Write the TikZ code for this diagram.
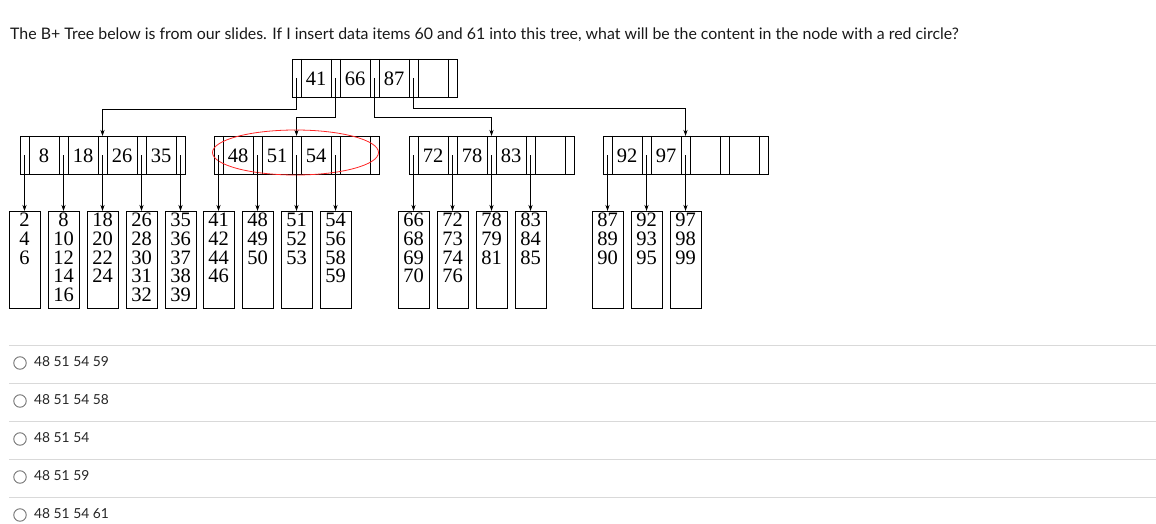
\documentclass[tikz,border=0pt]{standalone}
\usepackage{fontspec}
\setmainfont{Liberation Serif}
\newfontfamily\uifont{Lato}
\usetikzlibrary{arrows.meta}
\tikzset{
  arr/.style={-{Stealth[length=6pt,width=4pt]},line width=0.8pt},
  box/.style={line width=0.8pt},
  leaf/.style={draw,line width=0.8pt,minimum width=31pt,minimum height=97pt,anchor=north,inner sep=0pt},
  leaftext/.style={anchor=north,align=center,inner sep=0pt,font=\fontsize{20.5}{18.7}\selectfont},
  keytext/.style={font=\fontsize{20.5}{22}\selectfont,inner sep=0pt},
  sep/.style={draw=black!15,line width=1pt},
  radio/.style={circle,draw=black!55,line width=0.9pt,minimum size=12.5pt,inner sep=0pt},
  opt/.style={anchor=west,font=\uifont\fontsize{13.8}{16}\selectfont,text=black!85,inner sep=0pt}
}
\newcommand\bpnode[4]{%
  \draw[box] (#2,#3) rectangle ++(165,38);
  \foreach \i in {0,...,3} {\draw[box] (#2+39*\i+9,#3) -- ++(0,38);}
  \foreach \i in {1,...,4} {\draw[box] (#2+39*\i,#3) -- ++(0,38);}
  \foreach \i in {0,...,4} {\coordinate (#1\i) at (#2+39*\i+4.5,#3+19);}
  \coordinate (#1t) at (#2+82.5,#3);
  \foreach \k [count=\j from 0] in {#4} {\node[keytext] (#1k\j) at (#2+39*\j+24,#3+20) {\k};}
}
\begin{document}
\begin{tikzpicture}[x=1pt,y=-1pt]
\useasboundingbox (0,0) rectangle (1156,524);
\node[anchor=base west,inner sep=0pt,font=\uifont\fontsize{15.9}{18}\selectfont,text=black!90] (q) at (10,40) {The B+ Tree below is from our slides. If I insert data items 60 and 61 into this tree, what will be the content in the node with a red circle?};

\bpnode{r}{292}{59}{41,66,87}
\bpnode{a}{20}{136}{8,18,26,35}
\bpnode{b}{214}{136}{48,51,54}
\bpnode{c}{409}{136}{72,78,83}
\bpnode{d}{603}{136}{92,97}

\draw[arr] (r0) -- ++(0,31) -| (at);
\draw[arr] (r1) -- ++(0,39) -| (bt);
\draw[arr] (r2) -- ++(0,39) -| (ct);
\draw[arr] (r3) -- ++(0,30) -| (dt);

\draw[red!85,line width=0.8pt] (295.5,152.5) ellipse [x radius=83,y radius=22.5];

% leaves
\foreach \p/\n/\t in {a0/L1/{2\\4\\6}, a1/L2/{8\\10\\12\\14\\16}, a2/L3/{18\\20\\22\\24}, a3/L4/{26\\28\\30\\31\\32}, a4/L5/{35\\36\\37\\38\\39},
  b0/L6/{41\\42\\44\\46}, b1/L7/{48\\49\\50}, b2/L8/{51\\52\\53}, b3/L9/{54\\56\\58\\59},
  c0/L10/{66\\68\\69\\70}, c1/L11/{72\\73\\74\\76}, c2/L12/{78\\79\\81}, c3/L13/{83\\84\\85},
  d0/L14/{87\\89\\90}, d1/L15/{92\\93\\95}, d2/L16/{97\\98\\99}} {
  \node[leaf] (\n) at (\p |- 0,211) {};
  \node[leaftext] at ([yshift=-2pt]\n.north) {\t};
  \draw[arr] (\p) -- (\n.north);
}

% options
\foreach \y in {345,383,421,459,497} {\draw[sep] (9,\y) -- (1156,\y);}
\foreach \y/\t [count=\i] in {363/48 51 54 59, 401/48 51 54 58, 439/48 51 54, 477/48 51 59, 515/48 51 54 61} {
  \node[radio] (o\i) at (20,\y) {};
  \node[opt] (t\i) at (34,\y-1) {\t};
}
\end{tikzpicture}
\end{document}
